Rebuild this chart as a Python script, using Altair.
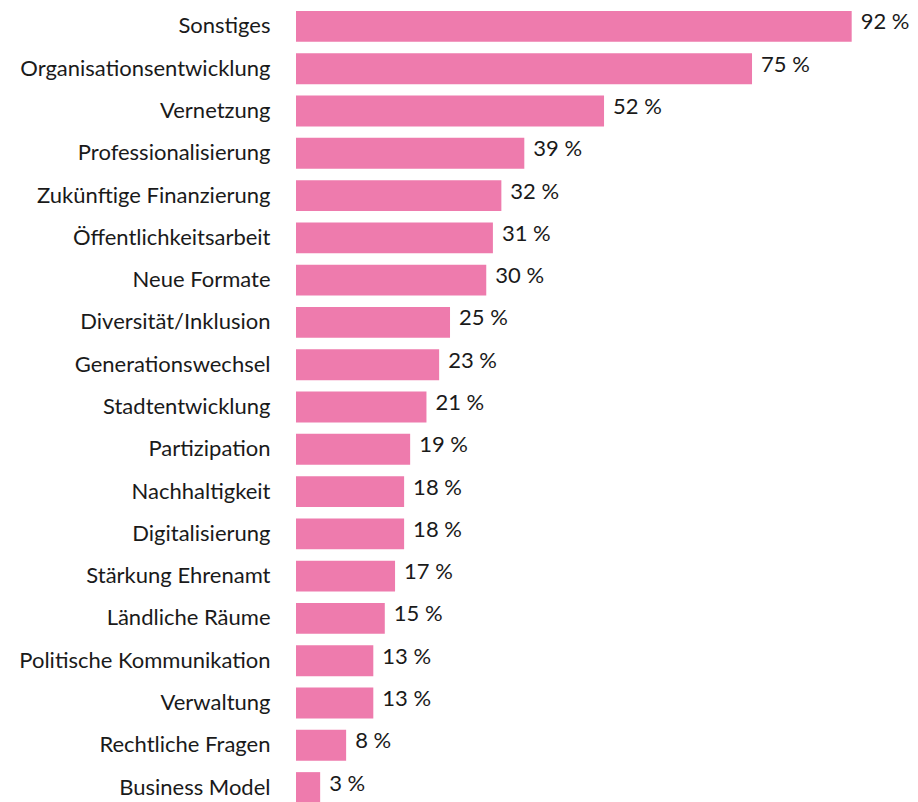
import altair as alt
import pandas as pd

categories = [
    "Sonstiges", "Organisationsentwicklung", "Vernetzung", "Professionalisierung",
    "Zukünftige Finanzierung", "Öffentlichkeitsarbeit", "Neue Formate",
    "Diversität/Inklusion", "Generationswechsel", "Stadtentwicklung", "Partizipation",
    "Nachhaltigkeit", "Digitalisierung", "Stärkung Ehrenamt", "Ländliche Räume",
    "Politische Kommunikation", "Verwaltung", "Rechtliche Fragen", "Business Model",
]
# bar lengths
bar_values = [92.0, 75.5, 51.0, 37.8, 34.0, 32.6, 31.5, 25.5, 23.7, 21.6,
              18.9, 17.9, 17.9, 16.4, 14.7, 12.8, 12.8, 8.3, 4.0]
# printed value labels
label_values = [92, 75, 52, 39, 32, 31, 30, 25, 23, 21, 19, 18, 18, 17, 15, 13, 13, 8, 3]

df = pd.DataFrame({"Kategorie": categories, "Wert": bar_values, "Prozent": label_values})
df["Label"] = df["Prozent"].astype(str) + " %"

FONT = "Lato"
PINK = "#EE7BAD"
INK = "#1a1a1a"

y_enc = alt.Y(
    "Kategorie:N",
    sort=categories,
    scale=alt.Scale(paddingInner=0.27, paddingOuter=0),
    axis=alt.Axis(
        title=None, ticks=False, domain=False, labelPadding=26,
        labelFont=FONT, labelFontSize=22, labelColor=INK, labelLimit=400,
    ),
)
x_enc = alt.X(
    "Wert:Q",
    scale=alt.Scale(domain=[0, 100]),
    axis=None,
)

bars = alt.Chart(df).mark_bar(color=PINK).encode(x=x_enc, y=y_enc)
text = alt.Chart(df).mark_text(
    align="left", baseline="middle", dx=9, dy=-4,
    font=FONT, fontSize=22, color=INK,
).encode(x=x_enc, y=y_enc, text="Label:N")

chart = (
    (bars + text)
    .properties(width=604, height=792, padding={"left": 10, "top": 3, "right": 0, "bottom": 0})
    .configure(background="white")
    .configure_view(stroke=None, strokeWidth=0)
)

chart.save("out.html", embed_options={"renderer": "svg", "actions": False})
